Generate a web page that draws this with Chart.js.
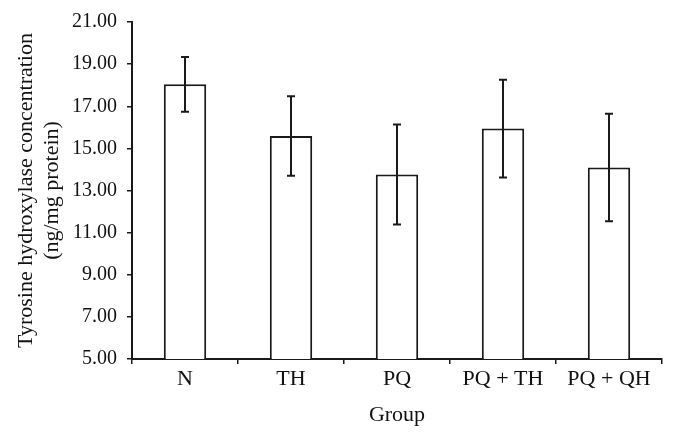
<!DOCTYPE html>
<html>
<head>
<meta charset="utf-8">
<script src="https://cdn.jsdelivr.net/npm/chart.js@4.4.1/dist/chart.umd.min.js"></script>
<style>
  html, body { margin: 0; padding: 0; background: #fff; }
  #wrap { width: 676px; height: 438px; }
</style>
</head>
<body>
<div id="wrap"><canvas id="canvas"></canvas></div>
<script>
// data
const groups = ['N', 'TH', 'PQ', 'PQ + TH', 'PQ + QH'];
const means = [18.04, 15.59, 13.76, 15.94, 14.09];
const errors = [1.30, 1.89, 2.37, 2.32, 2.55];
const yTicks = [5, 7, 9, 11, 13, 15, 17, 19, 21];

const ink = '#1a1a1a';

// draws the +/- error whiskers on top of each bar
const errorBars = {
    id: 'errorBars',
    afterDatasetsDraw(chart) {
        const ctx = chart.ctx;
        const y = chart.scales.y;
        const meta = chart.getDatasetMeta(0);
        ctx.save();
        ctx.strokeStyle = ink;
        ctx.lineWidth = 2;
        meta.data.forEach(function (bar, i) {
            const x = Math.round(bar.x);
            const top = y.getPixelForValue(means[i] + errors[i]);
            const bot = y.getPixelForValue(means[i] - errors[i]);
            ctx.beginPath();
            ctx.moveTo(x, top);
            ctx.lineTo(x, bot);
            ctx.moveTo(x - 4, top);
            ctx.lineTo(x + 4, top);
            ctx.moveTo(x - 4, bot);
            ctx.lineTo(x + 4, bot);
            ctx.stroke();
        });
        ctx.restore();
    }
};

const ctx = document.getElementById('canvas').getContext('2d');
const myChart = new Chart(ctx, {
    type: 'bar',
    data: {
        labels: groups,
        datasets: [{
            data: means,
            backgroundColor: '#ffffff',
            borderColor: ink,
            borderWidth: 2,
            barPercentage: 0.4,
            categoryPercentage: 1.0
        }]
    },
    options: {
        responsive: true,
        maintainAspectRatio: false,
        animation: false,
        layout: {
            padding: { left: 4, right: 14, top: 22, bottom: 0 }
        },
        plugins: {
            legend: { display: false },
            tooltip: { enabled: false }
        },
        scales: {
            x: {
                grid: {
                    drawOnChartArea: false,
                    tickLength: 5,
                    color: ink,
                    lineWidth: 1.5
                },
                border: { color: ink, width: 2 },
                ticks: {
                    color: '#111',
                    padding: 2,
                    font: { family: 'Liberation Serif', size: 22 },
                    maxRotation: 0
                },
                title: {
                    display: true,
                    text: 'Group',
                    color: '#111',
                    font: { family: 'Liberation Serif', size: 22 },
                    padding: { top: 0, bottom: 10 }
                },
                afterFit: function (scale) { scale.height = 79; }
            },
            y: {
                min: 5,
                max: 21,
                afterBuildTicks: function (scale) {
                    scale.ticks = yTicks.map(function (v) { return { value: v }; });
                },
                grid: {
                    drawOnChartArea: false,
                    tickLength: 5,
                    color: ink,
                    lineWidth: 1.5
                },
                border: { color: ink, width: 2 },
                ticks: {
                    color: '#111',
                    padding: 10,
                    font: { family: 'Liberation Serif', size: 20 },
                    callback: function (v) { return Number(v).toFixed(2); }
                },
                title: {
                    display: true,
                    text: ['Tyrosine hydroxylase concentration', '(ng/mg protein)'],
                    color: '#111',
                    font: { family: 'Liberation Serif', size: 22 },
                    padding: { top: 9, bottom: 0 }
                },
                afterFit: function (scale) { scale.width = 128; }
            }
        }
    },
    plugins: [errorBars]
});
</script>
</body>
</html>
